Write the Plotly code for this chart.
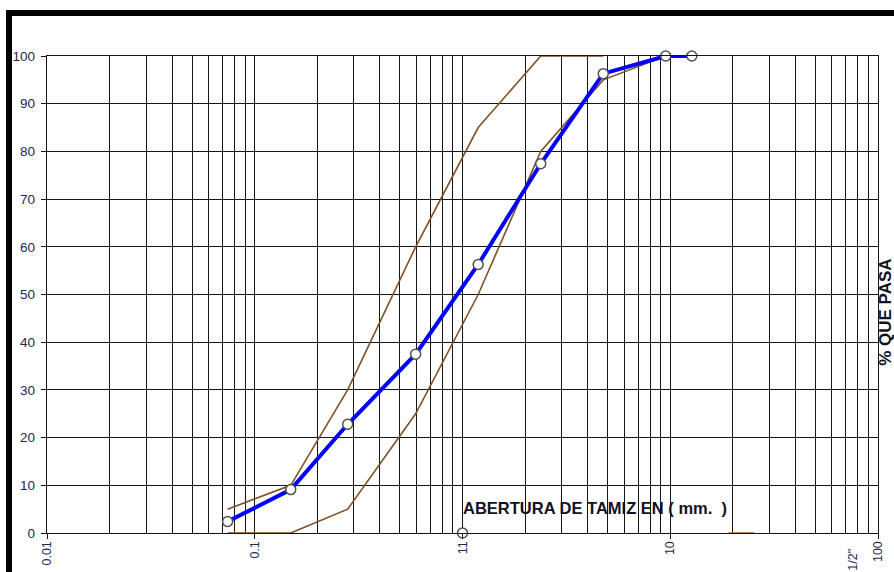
import plotly.graph_objects as go

# ---- data ----
sieve_mm = [0.074, 0.149, 0.28, 0.595, 1.19, 2.38, 4.76, 9.51, 12.7]
pct_passing = [2.4, 9.1, 22.8, 37.5, 56.3, 77.4, 96.3, 100, 100]

upper_x = [0.074, 0.149, 0.28, 0.595, 1.19, 2.38, 4.76]
upper_y = [5, 10, 30, 60, 85, 100, 100]

lower_x = [0.074, 0.149, 0.28, 0.595, 1.19, 2.38, 4.76, 9.51]
lower_y = [0, 0, 5, 25, 50, 80, 95, 100]

extra_lower_x = [19.05, 25.4]
extra_lower_y = [0, 0]

extra_point_x = [1.0]
extra_point_y = [0]

x_major = [0.01, 0.1, 1, 10, 100]
x_major_text = ["0.01", "0.1", "11", "10", "100"]
x_minor = [m * 10 ** e for e in range(-2, 2) for m in range(2, 10)]
y_ticks = list(range(0, 101, 10))

BROWN = "#7f5027"
BLUE = "#0000ff"
GRID = "#151515"
TXT = "#1e2850"
FONT = "Liberation Sans, Arial, sans-serif"

fig = go.Figure()
fig.add_trace(go.Scatter(x=upper_x, y=upper_y, mode="lines",
                         line=dict(color=BROWN, width=1.6), showlegend=False))
fig.add_trace(go.Scatter(x=lower_x, y=lower_y, mode="lines",
                         line=dict(color=BROWN, width=1.6), showlegend=False))
fig.add_trace(go.Scatter(x=extra_lower_x, y=extra_lower_y, mode="lines",
                         line=dict(color="#a0704a", width=1.6), showlegend=False,
                         cliponaxis=False))
fig.add_trace(go.Scatter(x=sieve_mm, y=pct_passing, mode="lines+markers",
                         line=dict(color=BLUE, width=4),
                         marker=dict(symbol="circle", size=10, color="white",
                                     line=dict(color="#505050", width=1.5)),
                         showlegend=False, cliponaxis=False))
fig.add_trace(go.Scatter(x=extra_point_x, y=extra_point_y, mode="markers",
                         marker=dict(symbol="circle", size=10, color="white",
                                     line=dict(color="#505050", width=1.5)),
                         showlegend=False, cliponaxis=False))

fig.update_layout(
    width=894, height=572,
    margin=dict(l=47, r=16, t=56, b=39, autoexpand=False),
    paper_bgcolor="white", plot_bgcolor="white",
    font=dict(family=FONT, color=TXT),
    xaxis=dict(
        type="log", range=[-2, 2], automargin=False,
        tickmode="array", tickvals=x_major, ticktext=x_major_text,
        tickangle=-90, tickfont=dict(size=12.5, color=TXT, family=FONT),
        ticks="outside", ticklen=5, tickcolor=GRID, tickwidth=1.4,
        ticklabelstandoff=-3,
        showgrid=True, gridcolor=GRID, gridwidth=1.4,
        showline=True, linecolor=GRID, linewidth=1.4, mirror=True,
        minor=dict(tickmode="array", tickvals=x_minor, showgrid=True,
                   gridcolor=GRID, gridwidth=1.4, ticks=""),
        zeroline=False,
    ),
    yaxis=dict(
        range=[0, 100], tickmode="array", tickvals=y_ticks, automargin=False,
        tickfont=dict(size=13.5, color=TXT, family=FONT),
        ticks="outside", ticklen=5, tickcolor=GRID, tickwidth=1.4,
        ticklabelstandoff=3,
        showgrid=True, gridcolor=GRID, gridwidth=1.4,
        showline=True, linecolor=GRID, linewidth=1.4, mirror=True,
        zeroline=False,
    ),
)

# white box behind the x-axis title inside the plot
fig.add_shape(type="rect", xref="paper", yref="paper",
              x0=(460 - 47) / 831, x1=(745 - 47) / 831,
              y0=(533.3 - 520) / 477.3, y1=(533.3 - 495) / 477.3,
              fillcolor="white", line=dict(width=0), layer="between")

fig.add_annotation(text="<b>ABERTURA DE TAMIZ EN ( mm.&nbsp;&nbsp;)</b>",
                   xref="paper", yref="paper",
                   x=(461 - 47) / 831, y=(533.3 - 508) / 477.3,
                   xanchor="left", yanchor="middle", showarrow=False,
                   font=dict(size=16.5, color="#111122", family=FONT))

fig.add_annotation(text="<b>% QUE PASA</b>", textangle=-90,
                   xref="paper", yref="paper",
                   x=(886 - 47) / 831, y=(533.3 - 313) / 477.3,
                   xanchor="center", yanchor="middle", showarrow=False,
                   font=dict(size=17, color="#111122", family=FONT))

fig.add_annotation(text='1/2"', textangle=-90,
                   xref="paper", yref="paper",
                   x=(853 - 47) / 831, y=(533.3 - 547) / 477.3,
                   xanchor="center", yanchor="top", showarrow=False,
                   font=dict(size=12.5, color=TXT, family=FONT))

# thick frame on top and left
fig.add_shape(type="path", xref="paper", yref="paper",
              path="M {l},{b} L {l},{t} L {r},{t}".format(
                  l=(9 - 47) / 831, b=-0.2, t=(533.3 - 13) / 477.3, r=1.05),
              line=dict(color="black", width=6), layer="above")

fig.write_html("out.html", config={"displayModeBar": False},
               post_script="document.body.style.margin='0';")
